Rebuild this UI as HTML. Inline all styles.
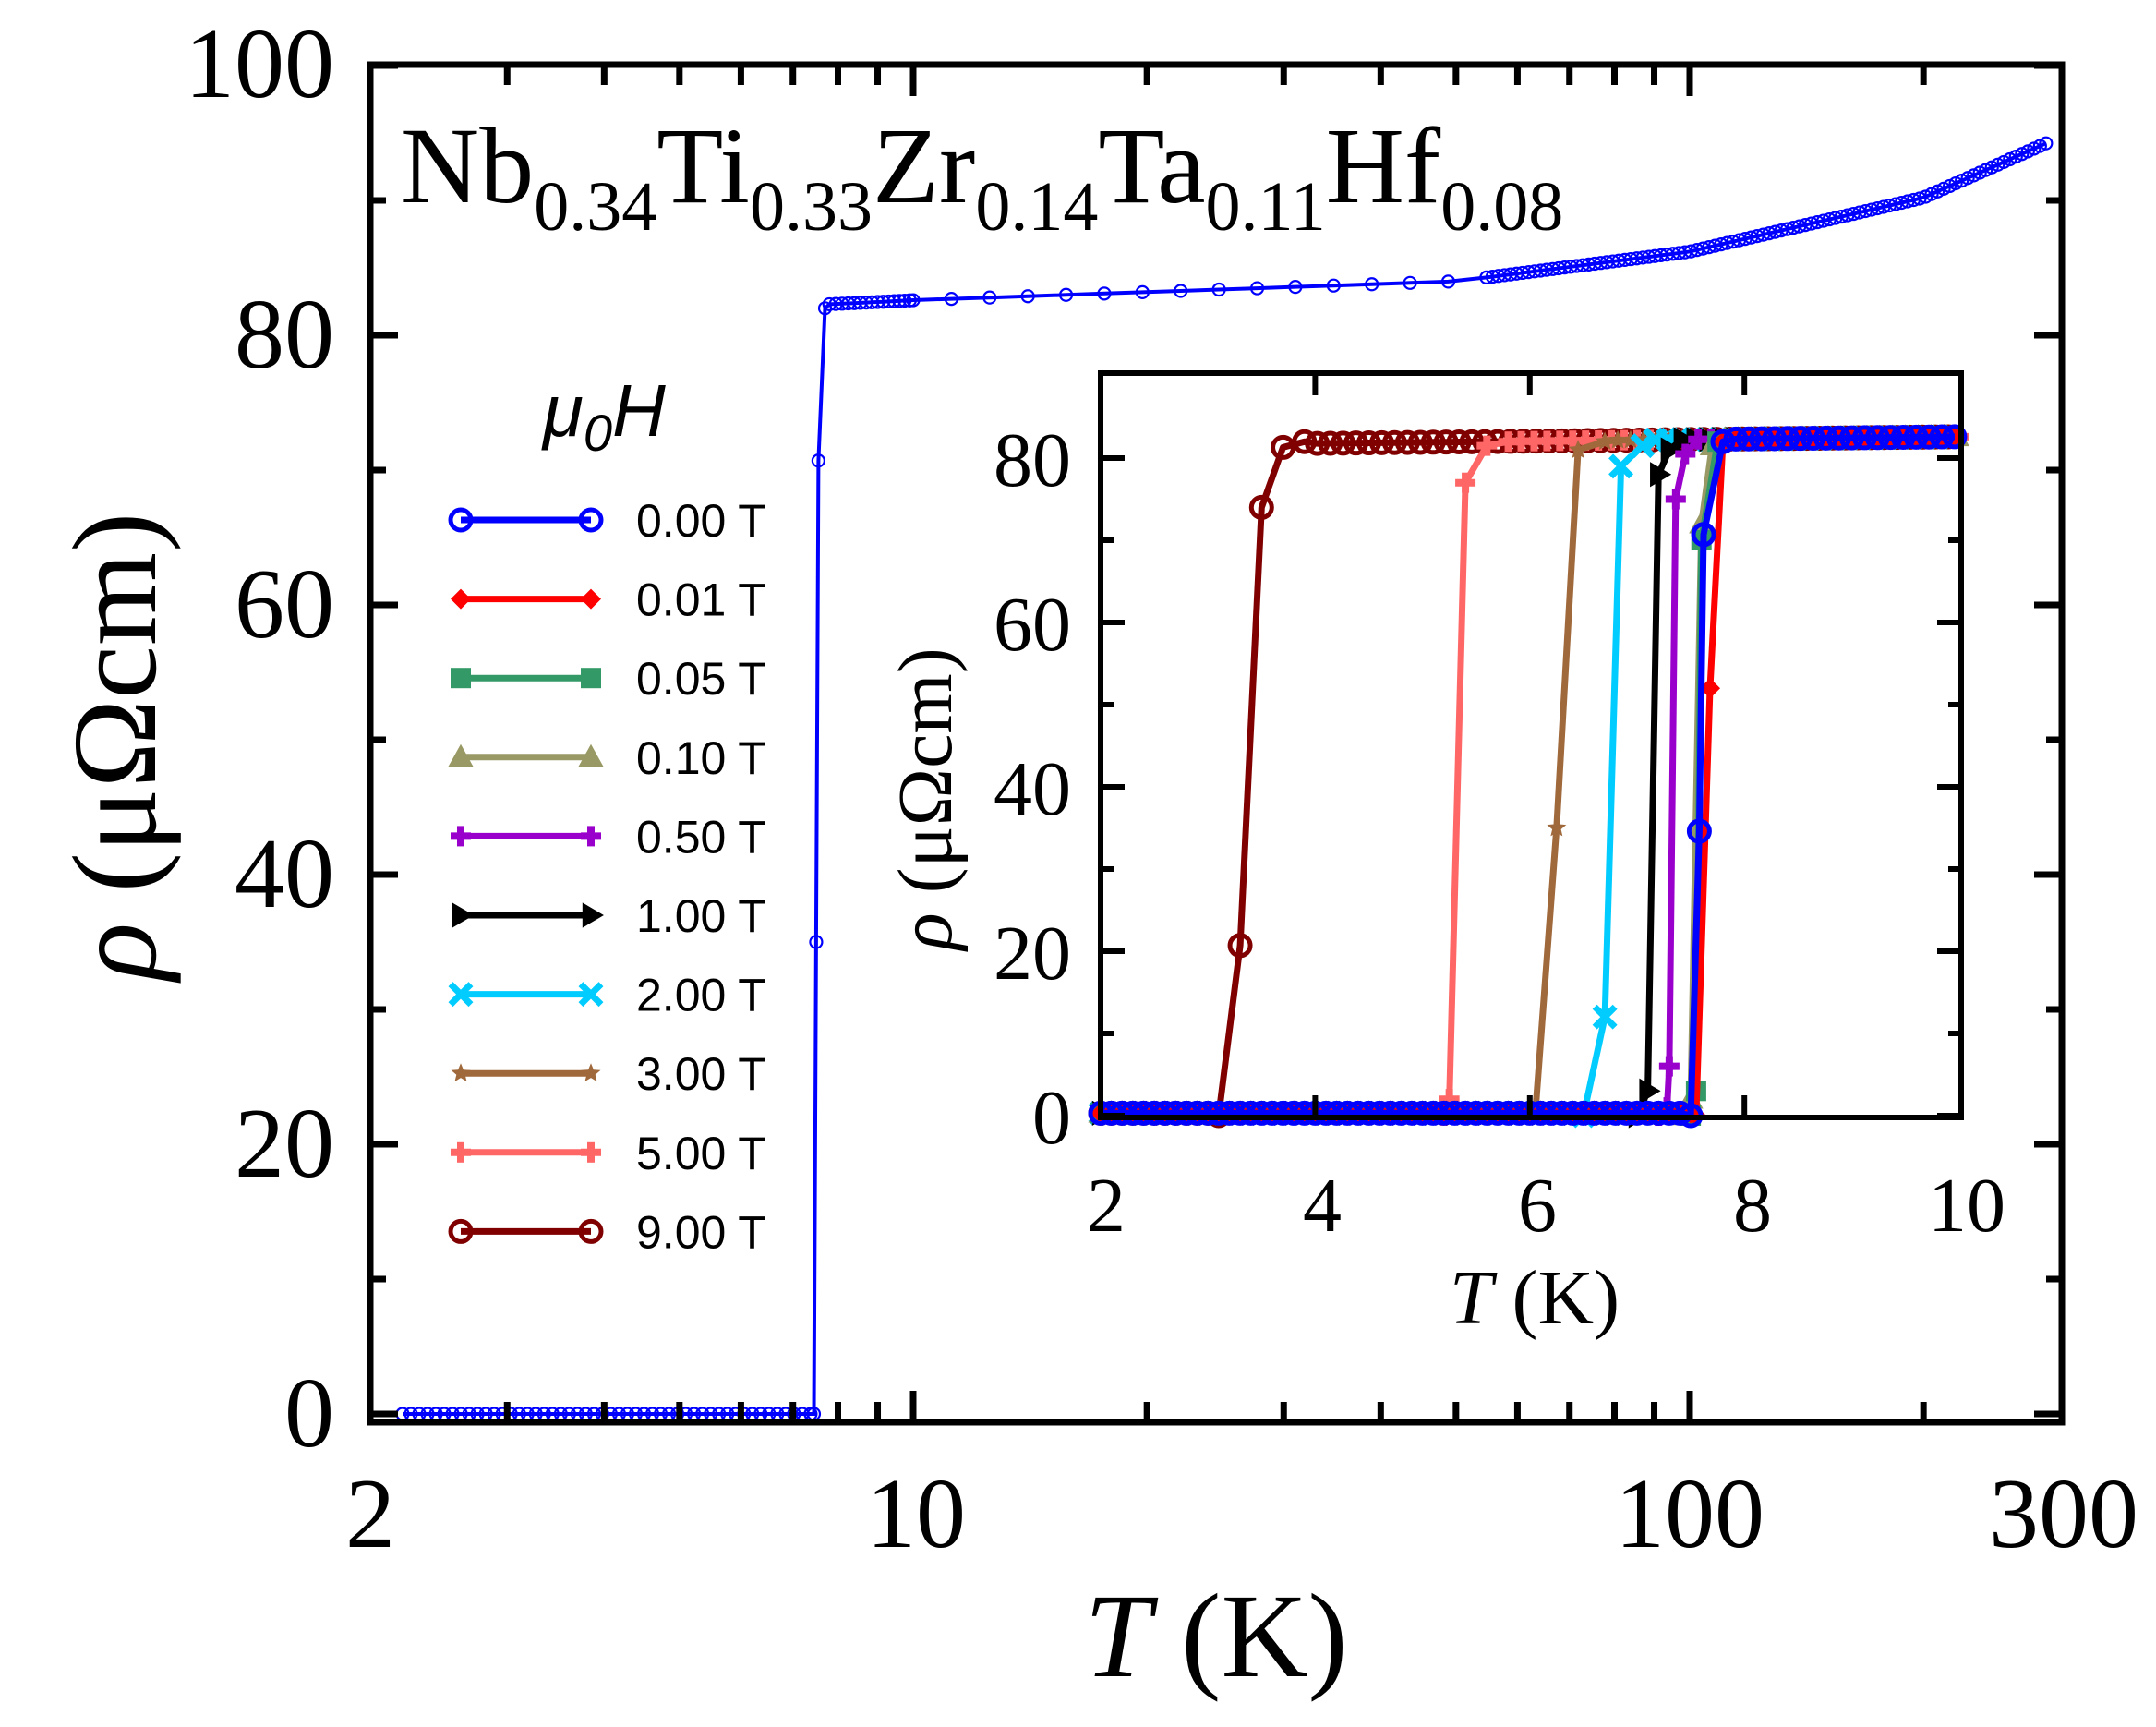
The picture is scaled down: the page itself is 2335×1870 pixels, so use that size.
<!DOCTYPE html>
<html><head><meta charset="utf-8"><style>
html,body{margin:0;padding:0;background:#fff;}
svg{display:block;}
.serif{font-family:"Liberation Serif",serif;}
.sans{font-family:"Liberation Sans","DejaVu Sans",sans-serif;}
</style></head><body>
<svg id="s" width="2335" height="1870" viewBox="0 0 2335 1870" xmlns="http://www.w3.org/2000/svg">
<rect width="2335" height="1870" fill="#fff"/>
<g id="main"></g>
<g id="inset"></g>
<rect x="401" y="70" width="1832" height="1470" fill="none" stroke="#000" stroke-width="7"/>
<rect x="1192" y="404" width="932" height="806" fill="none" stroke="#000" stroke-width="6"/>
<g id="ticks"></g>
<g class="serif" font-size="108" fill="#000" text-anchor="end">
<text x="362" y="105">100</text>
<text x="362" y="398">80</text>
<text x="362" y="690">60</text>
<text x="362" y="982">40</text>
<text x="362" y="1274">20</text>
<text x="362" y="1566">0</text>
</g>
<g class="serif" font-size="108" fill="#000" text-anchor="middle">
<text x="401" y="1675">2</text>
<text x="992" y="1675">10</text>
<text x="1830" y="1675">100</text>
<text x="2235" y="1675">300</text>
</g>
<text class="serif" x="1317" y="1815" font-size="130" text-anchor="middle"><tspan font-style="italic">T</tspan> (K)</text>
<text class="serif" font-size="130" text-anchor="middle" transform="translate(168,808) rotate(-90)"><tspan font-style="italic">ρ</tspan> (μΩcm)</text>
<text class="serif" x="434" y="219" font-size="118">Nb<tspan font-size="76" dy="30">0.34</tspan><tspan dy="-30">Ti</tspan><tspan font-size="76" dy="30">0.33</tspan><tspan dy="-30">Zr</tspan><tspan font-size="76" dy="30">0.14</tspan><tspan dy="-30">Ta</tspan><tspan font-size="76" dy="30">0.11</tspan><tspan dy="-30">Hf</tspan><tspan font-size="76" dy="30">0.08</tspan></text>
<g class="serif" font-size="84" fill="#000" text-anchor="end">
<text x="1160" y="526">80</text>
<text x="1160" y="704">60</text>
<text x="1160" y="882">40</text>
<text x="1160" y="1060">20</text>
<text x="1160" y="1238">0</text>
</g>
<g class="serif" font-size="84" fill="#000" text-anchor="middle">
<text x="1198" y="1333">2</text>
<text x="1432" y="1333">4</text>
<text x="1665" y="1333">6</text>
<text x="1898" y="1333">8</text>
<text x="2130" y="1333">10</text>
</g>
<text class="serif" x="1662" y="1433" font-size="84" text-anchor="middle"><tspan font-style="italic">T</tspan> (K)</text>
<text class="serif" font-size="84" text-anchor="middle" transform="translate(1030,865) rotate(-90)"><tspan font-style="italic">ρ</tspan> (μΩcm)</text>
<text class="sans" x="588" y="472" font-size="80" font-style="italic">μ<tspan font-size="56" dy="16">0</tspan><tspan dy="-16">H</tspan></text>
<g id="legend"></g>
</svg>
<script>
const NS="http://www.w3.org/2000/svg";
function el(p,tag,a){const e=document.createElementNS(NS,tag);for(const k in a)e.setAttribute(k,a[k]);p.appendChild(e);return e;}
const main=document.getElementById('main'),inset=document.getElementById('inset'),ticks=document.getElementById('ticks'),leg=document.getElementById('legend');
const MX=t=>989+841*Math.log10(t/10), MY=r=>1531-r*14.6;
const R=2233;
[0,20,40,60,80,100].forEach(v=>{const y=MY(v);el(ticks,'line',{x1:401,x2:431,y1:y,y2:y,stroke:'#000','stroke-width':7});el(ticks,'line',{x1:R-30,x2:R,y1:y,y2:y,stroke:'#000','stroke-width':7});});
[10,30,50,70,90].forEach(v=>{const y=MY(v);el(ticks,'line',{x1:401,x2:418,y1:y,y2:y,stroke:'#000','stroke-width':7});el(ticks,'line',{x1:R-17,x2:R,y1:y,y2:y,stroke:'#000','stroke-width':7});});
[10,100].forEach(v=>{const x=MX(v);el(ticks,'line',{x1:x,x2:x,y1:1540,y2:1506,stroke:'#000','stroke-width':7});el(ticks,'line',{x1:x,x2:x,y1:70,y2:104,stroke:'#000','stroke-width':7});});
[3,4,5,6,7,8,9,20,30,40,50,60,70,80,90,200].forEach(v=>{const x=MX(v);el(ticks,'line',{x1:x,x2:x,y1:1540,y2:1518,stroke:'#000','stroke-width':7});el(ticks,'line',{x1:x,x2:x,y1:70,y2:92,stroke:'#000','stroke-width':7});});
let pts=[];
for(let t=2.2;t<7.45;t*=1.025)pts.push([t,0]);
pts.push([7.45,0],[7.5,35],[7.55,70.7],[7.7,82]);
for(let t=7.8;t<10;t+=0.15)pts.push([t,82.3+0.3*(t-7.8)/2.2]);
function rr(t){const l=Math.log10(t);
 if(t<50)return 82.6+1.4*(l-1)/0.699;
 if(t<100)return 84+2.2*(l-1.699)/0.301;
 if(t<200)return 86.2+4.0*(l-2)/0.301;
 return 90.2+4.5*(l-2.301)/0.176;}
for(let t=10;t<=290;t*=(t<50?1.12:1.018))pts.push([t,rr(t)]);
el(main,'polyline',{points:pts.map(p=>MX(p[0]).toFixed(1)+','+MY(p[1]).toFixed(1)).join(' '),fill:'none',stroke:'#0000ff','stroke-width':4});
pts.forEach(p=>el(main,'circle',{cx:MX(p[0]),cy:MY(p[1]),r:6.5,fill:'none',stroke:'#0000ff','stroke-width':2.2}));
const IX=t=>1192+(t-2)*116.2, IY=r=>1208-r*8.9;
[0,20,40,60,80].forEach(v=>{const y=IY(v);el(ticks,'line',{x1:1192,x2:1218,y1:y,y2:y,stroke:'#000','stroke-width':6});el(ticks,'line',{x1:2098,x2:2124,y1:y,y2:y,stroke:'#000','stroke-width':6});});
[10,30,50,70].forEach(v=>{const y=IY(v);el(ticks,'line',{x1:1192,x2:1206,y1:y,y2:y,stroke:'#000','stroke-width':6});el(ticks,'line',{x1:2110,x2:2124,y1:y,y2:y,stroke:'#000','stroke-width':6});});
[4,6,8].forEach(v=>{const x=IX(v);el(ticks,'line',{x1:x,x2:x,y1:1210,y2:1186,stroke:'#000','stroke-width':6});el(ticks,'line',{x1:x,x2:x,y1:404,y2:428,stroke:'#000','stroke-width':6});});
const S=[
 {c:'#800000',m:'o',tr:[[3.1,0],[3.3,20.7],[3.5,74],[3.7,81.3],[3.9,82]]},
 {c:'#ff6666',m:'+',tr:[[5.2,0],[5.25,2],[5.4,77],[5.6,81.5],[5.8,82]]},
 {c:'#a0693c',m:'*',tr:[[6.05,0],[6.25,35],[6.45,81],[6.7,82]]},
 {c:'#00ccff',m:'x',tr:[[6.5,0],[6.7,12],[6.85,79],[7.05,81.5]]},
 {c:'#000000',m:'>',tr:[[7.0,0],[7.1,3],[7.2,78],[7.3,81]]},
 {c:'#9900cc',m:'+',tr:[[7.2,0],[7.28,1],[7.3,6],[7.36,75],[7.45,80.5]]},
 {c:'#999966',m:'^',tr:[[7.45,0],[7.5,2],[7.6,72],[7.7,81.5]]},
 {c:'#339966',m:'s',tr:[[7.5,0],[7.55,3],[7.6,70],[7.75,82]]},
 {c:'#ff0000',m:'d',tr:[[7.55,0],[7.68,52],[7.8,82]]},
 {c:'#0000ff',m:'o',tr:[[7.5,0],[7.58,34.6],[7.62,70.7],[7.8,82]]}
];
function marker(g,m,x,y,c,sz){
 if(m==='o')el(g,'circle',{cx:x,cy:y,r:sz,fill:'none',stroke:c,'stroke-width':5});
 else if(m==='s')el(g,'rect',{x:x-sz,y:y-sz,width:2*sz,height:2*sz,fill:c});
 else if(m==='d')el(g,'polygon',{points:`${x-sz},${y} ${x},${y-sz} ${x+sz},${y} ${x},${y+sz}`,fill:c});
 else if(m==='^')el(g,'polygon',{points:`${x-sz},${y+sz*0.8} ${x},${y-sz} ${x+sz},${y+sz*0.8}`,fill:c,stroke:c,'stroke-width':3});
 else if(m==='+'){el(g,'line',{x1:x-sz,x2:x+sz,y1:y,y2:y,stroke:c,'stroke-width':8});el(g,'line',{x1:x,x2:x,y1:y-sz,y2:y+sz,stroke:c,'stroke-width':8});}
 else if(m==='x'){el(g,'line',{x1:x-sz,x2:x+sz,y1:y-sz,y2:y+sz,stroke:c,'stroke-width':7});el(g,'line',{x1:x+sz,x2:x-sz,y1:y-sz,y2:y+sz,stroke:c,'stroke-width':7});}
 else if(m==='*')el(g,'polygon',{points:(()=>{let a=[];for(let i=0;i<10;i++){const rr=i%2?sz*0.45:sz;const an=-Math.PI/2+i*Math.PI/5;a.push((x+rr*Math.cos(an)).toFixed(1)+','+(y+rr*Math.sin(an)).toFixed(1));}return a.join(' ')})(),fill:c});
 else if(m==='>')el(g,'polygon',{points:`${x-sz*0.7},${y-sz} ${x+sz},${y} ${x-sz*0.7},${y+sz}`,fill:c,stroke:c,'stroke-width':3});
}
S.forEach(s=>{
 const p=[];const t0=s.tr[0][0];
 for(let t=2;t<t0-0.01;t+=0.1)p.push([t,0.3]);
 s.tr.forEach(q=>p.push(q));
 const tl=s.tr[s.tr.length-1][0];
 for(let t=tl+0.12;t<=10.01;t+=0.12)p.push([t,82.3+0.3*(t-7.8)/2.2]);
 el(inset,'polyline',{points:p.map(q=>IX(q[0]).toFixed(1)+','+IY(q[1]).toFixed(1)).join(' '),fill:'none',stroke:s.c,'stroke-width':7,'stroke-linejoin':'round'});
 p.forEach(q=>marker(inset,s.m,IX(q[0]),IY(q[1]),s.c,11));
});
const L=[['#0000ff','o','0.00 T'],['#ff0000','d','0.01 T'],['#339966','s','0.05 T'],['#999966','^','0.10 T'],['#9900cc','+','0.50 T'],['#000000','>','1.00 T'],['#00ccff','x','2.00 T'],['#a0693c','*','3.00 T'],['#ff6666','+','5.00 T'],['#800000','o','9.00 T']];
L.forEach((l,i)=>{const y=563+85.6*i;
 el(leg,'line',{x1:499,x2:640,y1:y,y2:y,stroke:l[0],'stroke-width':7});
 marker(leg,l[1],499,y,l[0],11);marker(leg,l[1],640,y,l[0],11);
 const t=el(leg,'text',{x:689,y:y+18,'font-size':50,'font-family':'Liberation Sans, DejaVu Sans, sans-serif'});t.textContent=l[2];
});
</script>
</body></html>
